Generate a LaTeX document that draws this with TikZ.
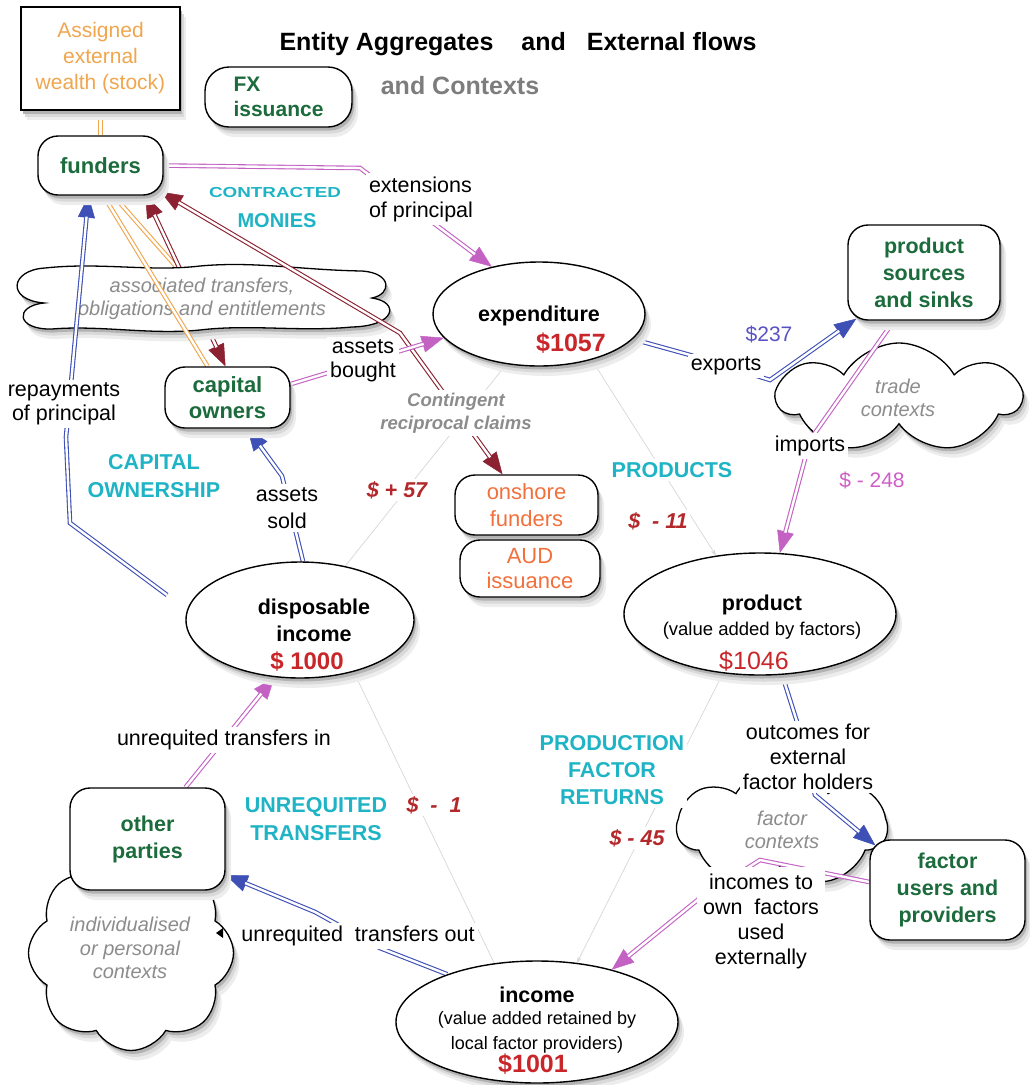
\documentclass[tikz,border=0pt]{standalone}
\usepackage{fontspec}
\setmainfont{Liberation Sans}
\usepackage{graphicx}
\usetikzlibrary{shapes.geometric,shapes.symbols,arrows.meta,calc}
\pgfdeclarelayer{bg}
\pgfdeclarelayer{cl}
\pgfdeclarelayer{ln}
\pgfsetlayers{bg,cl,ln,main}
\definecolor{grn}{HTML}{1C6B3C}
\definecolor{cyn}{HTML}{1FB4C5}
\definecolor{vred}{HTML}{C9262A}
\definecolor{ired}{HTML}{B3282B}
\definecolor{orng}{HTML}{F0A64E}
\definecolor{ornr}{HTML}{F2703C}
\definecolor{blu}{HTML}{3E4FB6}
\definecolor{pnk}{HTML}{C462C4}
\definecolor{dred}{HTML}{8B2131}
\definecolor{gry}{HTML}{8C8C8C}
\definecolor{gryd}{HTML}{7D7D7D}
\definecolor{lgry}{HTML}{D6D6D6}
\definecolor{vio}{HTML}{5A52C2}
\definecolor{pnkt}{HTML}{D05EC6}
\newcommand\myfs[2]{\fontsize{#1}{#2}\selectfont}
\newcommand\assocpath{(45,268) .. controls (100,262) and (150,272) .. (200,266)
  .. controls (255,261) and (300,270) .. (362,271)
  .. controls (392,273) and (392,294) .. (372,298)
  .. controls (400,302) and (396,326) .. (352,327)
  .. controls (300,332) and (250,324) .. (200,330)
  .. controls (150,335) and (100,325) .. (52,329)
  .. controls (16,330) and (14,306) .. (44,303)
  .. controls (6,300) and (10,270) .. (45,268) -- cycle}
\tikzset{
 shx/.style={fill=black!7},
 shl/.style={fill=black!15},
 shc/.style={fill=black!30},
 rbox/.style={draw, line width=1.4pt, fill=white, rounded corners=20pt, align=center, inner sep=0pt, text=grn, font=\bfseries\myfs{21.5}{27}},
 ell/.style={ellipse, draw, line width=1.4pt, fill=white, inner sep=0pt},
 cldb/.style={cloud, inner sep=0pt, cloud puff arc=120},
 tradeshape/.style={cldb, cloud puffs=7, aspect=2.2, minimum width=242pt, minimum height=110pt},
 fctxshape/.style={cldb, cloud puffs=7, aspect=1.75, minimum width=210pt, minimum height=120pt},
 indivshape/.style={cldb, cloud puffs=8, aspect=1.05, minimum width=205pt, minimum height=195pt},
 cld/.style={draw, line width=1.3pt, fill=white},
 ctext/.style={align=center, text=gry, font=\itshape\myfs{20}{23.5}},
 lbl/.style={fill=white, inner sep=3pt, align=center, font=\myfs{21.5}{25}},
 cy/.style={fill=white, inner sep=3pt, align=center, text=cyn, font=\bfseries\myfs{21.5}{28}},
 rv/.style={fill=white, inner sep=2pt, text=ired, font=\bfseries\itshape\myfs{21.5}{25}},
 dl/.style={draw=#1, double=white, double distance=2.4pt, line width=1.1pt},
 da/.style={draw=#1, line width=4.6pt, -{Triangle[length=22pt,width=17pt,line width=0.5pt]}, postaction={draw=white, line width=2.4pt, arrows=-, shorten >=21pt}},
 dda/.style={draw=#1, line width=4.6pt, {Triangle[length=22pt,width=17pt,line width=0.5pt]}-{Triangle[length=22pt,width=17pt,line width=0.5pt]}, postaction={draw=white, line width=2.4pt, arrows=-, shorten >=21pt, shorten <=21pt}},
 thinl/.style={draw=lgry, line width=0.7pt},
 thina/.style={thinl, -{Stealth[length=6pt,width=4pt]}},
}
\begin{document}
\begin{tikzpicture}[x=1pt,y=-1pt]
\useasboundingbox (0,0) rectangle (1030,1085);

% soft shadows (drawn first, under the boxes and ellipses)
\foreach \px/\py/\ww/\hh/\rr in {100.5/58.5/159/103/0, 278.5/97/147/60/24, 100.5/165.5/125/59/20, 227.5/397.5/125/61/20, 924/272.5/152/95/20, 526.5/505/143/60/20, 530/568.5/140/57/20, 147.5/839/155/102/20, 947.5/890/155/100/20} {
  \fill[shx, rounded corners=\rr pt] ({\px-\ww/2+6},{\py-\hh/2+10}) rectangle ({\px+\ww/2+6},{\py+\hh/2+10});
  \fill[shl, rounded corners=\rr pt] ({\px-\ww/2+4},{\py-\hh/2+6.5}) rectangle ({\px+\ww/2+4},{\py+\hh/2+6.5});
  \fill[shc, rounded corners=\rr pt] ({\px-\ww/2+2},{\py-\hh/2+3.5}) rectangle ({\px+\ww/2+2},{\py+\hh/2+3.5});
}
\foreach \px/\py/\aa/\bb in {539/314/106/52, 300/620/114/58, 760/614/136/61, 537/1022/141/61} {
  \fill[shx] ({\px+6},{\py+10}) ellipse [x radius=\aa pt, y radius=\bb pt];
  \fill[shl] ({\px+4},{\py+6.5}) ellipse [x radius=\aa pt, y radius=\bb pt];
  \fill[shc] ({\px+2},{\py+3.5}) ellipse [x radius=\aa pt, y radius=\bb pt];
}

% boxes
\node[draw, line width=1.4pt, fill=white, minimum width=159pt, minimum height=103pt, inner sep=0pt, align=center, text=orng, font=\myfs{21}{26}] (assigned) at (100.5,58.5) {Assigned\\external\\wealth (stock)};
\node[rbox, minimum width=147pt, minimum height=60pt, align=left, rounded corners=24pt, font=\bfseries\myfs{21}{25}] (fx) at (278.5,97) {FX\\issuance};
\node[rbox, minimum width=125pt, minimum height=59pt, font=\bfseries\myfs{22}{26}] (funders) at (100.5,165.5) {funders};
\node[rbox, minimum width=125pt, minimum height=61pt, font=\bfseries\myfs{22}{26}] (capital) at (227.5,397.5) {capital\\owners};
\node[rbox, minimum width=152pt, minimum height=95pt] (psrc) at (924,272.5) {product\\sources\\and sinks};
\node[rbox, minimum width=143pt, minimum height=60pt, text=ornr, font=\myfs{22}{27}] (onshore) at (526.5,505) {onshore\\funders};
\node[rbox, minimum width=140pt, minimum height=57pt, text=ornr, font=\myfs{22}{25}] (aud) at (530,568.5) {AUD\\issuance};
\node[rbox, minimum width=155pt, minimum height=102pt] (other) at (147.5,839) {other\\parties};
\node[rbox, minimum width=155pt, minimum height=100pt] (fusers) at (947.5,890) {factor\\users and\\providers};

% ellipses
\node[ell, minimum width=212pt, minimum height=104pt] (expend) at (539,314) {};
\node[ell, minimum width=228pt, minimum height=116pt] (disp) at (300,620) {};
\node[ell, minimum width=272pt, minimum height=122pt] (prod) at (760,614) {};
\node[ell, minimum width=282pt, minimum height=122pt] (income) at (537,1022) {};
\node[font=\bfseries\myfs{21.5}{26}] (expendT) at (539,316) {expenditure};
\node[text=vred, font=\bfseries\myfs{25}{30}] (expendV) at (571,343) {\$1057};
\node[align=center, font=\bfseries\myfs{21.5}{27}] (dispT) at (314,620) {disposable\\income};
\node[text=vred, font=\bfseries\myfs{24}{28}] (dispV) at (307,661) {\$ 1000};
\node[font=\bfseries\myfs{21.5}{26}] (prodT) at (762,605) {product};
\node[font=\myfs{18.5}{22}] (prodS) at (762,631) {(value added by factors)};
\node[text=vred, font=\myfs{25}{30}] (prodV) at (754,661) {\$1046};
\node[font=\bfseries\myfs{21.5}{26}] (incT) at (537,995) {income};
\node[align=center, font=\myfs{18}{25}] (incS) at (537,1032) {(value added retained by\\local factor providers)};
\node[text=vred, font=\bfseries\myfs{25}{30}] (incV) at (533,1064) {\$1001};

% clouds with their shadows
\coordinate (assoc) at (203,297);
\begin{pgfonlayer}{cl}
\begin{scope}[shift={(6,10)}]
\fill[shx] \assocpath;
\end{scope}
\begin{scope}[shift={(4,6.5)}]
\fill[shl] \assocpath;
\end{scope}
\begin{scope}[shift={(2,3.5)}]
\fill[shc] \assocpath;
\end{scope}
\node[tradeshape, shx] (tradeS0) at (905,408) {};
\node[tradeshape, shl] (tradeS1) at (903,404.5) {};
\node[tradeshape, shc] (tradeS2) at (901,401.5) {};
\node[fctxshape, shx] (fctxS0) at (788,837) {};
\node[fctxshape, shl] (fctxS1) at (786,833.5) {};
\node[fctxshape, shc] (fctxS2) at (784,830.5) {};
\node[indivshape, shx] (indivS0) at (137,963) {};
\node[indivshape, shl] (indivS1) at (135,959.5) {};
\node[indivshape, shc] (indivS2) at (133,956.5) {};
\draw[cld] \assocpath;
\node[tradeshape, cld] (trade) at (899,398) {};
\node[fctxshape, cld] (fctx) at (782,827) {};
\node[indivshape, cld] (indiv) at (131,953) {};
\node[ctext] (assocT) at (202,299) {associated transfers,\\obligations and entitlements};
\node[ctext] (tradeT) at (898,398) {trade\\contexts};
\node[ctext] (fctxT) at (782,830) {factor\\contexts};
\node[ctext] (indivT) at (130,948) {individualised\\or personal\\contexts};
\end{pgfonlayer}

% labels
\node[font=\bfseries\myfs{25}{30}] (title) at (518,44) {Entity Aggregates\hspace{28pt}and\hspace{21pt}External flows};
\node[text=gryd, font=\bfseries\myfs{25}{30}] (ctx) at (460,86) {and Contexts};
\node[lbl, align=left] (ext) at (421,199) {extensions\\of principal};
\node[cy] (contr) at (275,193) {\scalebox{1.3}[1]{\myfs{14.5}{16}CONTRACTED}};
\node[cy, font=\bfseries\myfs{20}{24}] (monies) at (277,221) {MONIES};
\node[lbl, font=\myfs{21.5}{24}] (abought) at (363,361) {assets\\bought};
\node[lbl, font=\myfs{21.5}{24}] (repay) at (64,404) {repayments\\of principal};
\node[lbl, text=gry, font=\bfseries\itshape\myfs{18.5}{23}] (conting) at (456,413) {Contingent\\reciprocal claims};
\node[lbl] (exports) at (726,366) {exports};
\node[text=vio, font=\myfs{21}{25}] (v237) at (769,334) {\$237};
\node[lbl] (imports) at (810,446) {imports};
\node[text=pnkt, font=\myfs{21}{25}] (v248) at (872,480) {\$ - 248};
\node[cy] (products) at (672,470) {PRODUCTS};
\node[rv] (v11) at (658,521) {\$\ \ -\ 11};
\node[rv] (v57) at (397,490) {\$ + 57};
\node[cy] (capown) at (154,476) {CAPITAL\\OWNERSHIP};
\node[lbl, font=\myfs{21.5}{27}] (asold) at (287,508) {assets\\sold};
\node[lbl] (utin) at (224,740) {unrequited transfers in};
\node[cy] (untr) at (316,819) {UNREQUITED\\TRANSFERS};
\node[rv] (v1) at (434,805) {\$\ \ -\ \ 1};
\node[lbl] (utout) at (358,936) {unrequited\ \ transfers out};
\node[cy, font=\bfseries\myfs{21.5}{27}] (pfr) at (612,770) {PRODUCTION\\FACTOR\\RETURNS};
\node[rv] (v45) at (637,838) {\$ - 45};
\node[lbl] (outc) at (808,757) {outcomes for\\external\\factor holders};
\node[lbl, inner sep=6pt] (incown) at (761,921) {incomes to\\own\ \ factors\\used\\externally};
\fill (223,928) -- (216,933) -- (223,938) -- cycle;

% waypoints
\coordinate (w1) at (360,168);
\coordinate (repS) at (167,595);
\coordinate (w2) at (70,523);
\coordinate (w3) at (66,437);
\coordinate (w4) at (400,333);
\coordinate (w5) at (282,476);
\coordinate (w6) at (690,355);
\coordinate (w7) at (770,380);
\coordinate (w8) at (810,440);
\coordinate (w9) at (798,725);
\coordinate (w10) at (815,795);
\coordinate (w11) at (760,860);
\coordinate (w12) at (700,898);
\coordinate (w13) at (380,948);
\coordinate (w14) at (315,912);

\begin{pgfonlayer}{bg}
\draw[thinl] (expend.-123) -- (disp.50);
\draw[thina] (expend.-41) -- (prod.127);
\draw[thina] (prod.-122) -- (income.56);
\draw[thinl] (disp.-44) -- (income.126);
\draw[dl=orng] ($(funders.south)+(13,0)$) -- (assoc);
\draw[dda=dred] ($(funders.south)+(45,0)$) -- ($(capital.north)+(-2,0)$);
\end{pgfonlayer}

\begin{pgfonlayer}{ln}
\draw[dl=orng] (assigned.south) -- (funders.north);
\draw[da=pnk] (funders.east) -- (w1) -- (expend.135);
\draw[da=blu] (repS) -- (w2) -- (w3) -- ($(funders.south)+(-12,0)$);
\draw[dl=orng] ($(funders.south)+(3,0)$) -- ($(capital.north)+(-20,0)$);
\draw[dda=dred] ($(funders.south)+(60,-4)$) -- (w4) -- ($(onshore.north)+(-24,0)$);
\draw[da=pnk] (capital.12) -- (expend.194);
\draw[da=blu] ($(disp.north)+(3,0)$) -- (w5) -- ($(capital.south)+(20,0)$);
\draw[da=blu] (expend.-15) -- (w6) -- (w7) -- ($(psrc.south west)+(9,-2)$);
\draw[da=pnk] ($(psrc.south)+(-30,0)$) -- (w8) -- (prod.72);
\draw[da=blu] (prod.-70) -- (w9) -- (w10) -- ($(fusers.north west)+(6,6)$);
\draw[da=pnk] ($(fusers.west)+(0,-8)$) -- (w11) -- (w12) -- (income.35);
\draw[da=blu] (income.152) -- (w13) -- (w14) -- ($(other.east)+(0,36)$);
\draw[da=pnk] ($(other.north)+(38,0)$) -- (disp.-114);
\end{pgfonlayer}
\end{tikzpicture}
\end{document}
